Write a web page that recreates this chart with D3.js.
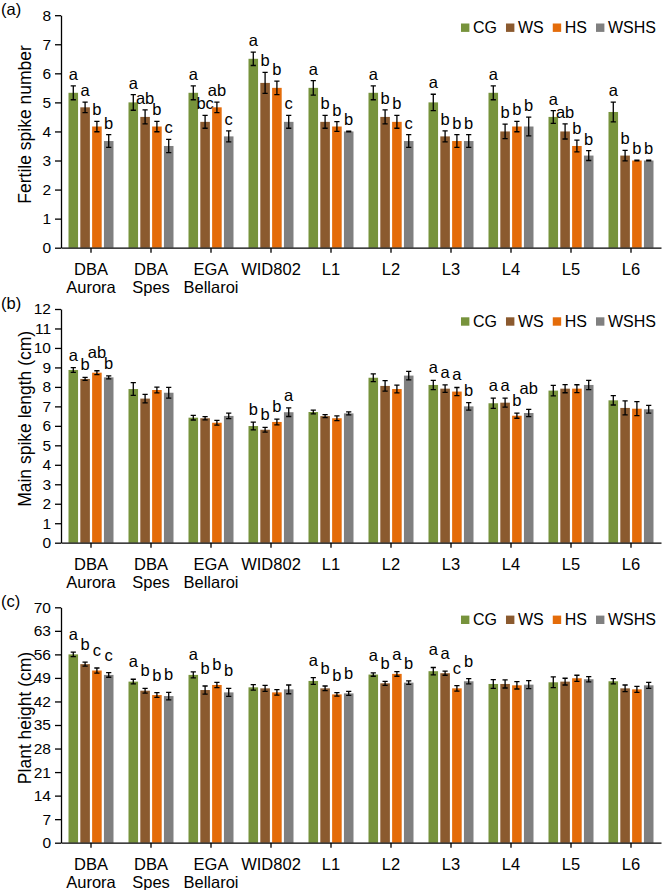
<!DOCTYPE html>
<html>
<head>
<meta charset="utf-8">
<script src="https://cdn.jsdelivr.net/npm/d3@7"></script>
<style>
  body { margin: 0; background: #fff; }
  svg { display: block; font-family: Arial, "Liberation Sans", sans-serif; }
</style>
</head>
<body>
<svg id="chart" width="663" height="890"></svg>
<script>
const categories = ["DBA Aurora", "DBA Spes", "EGA Bellaroi", "WID802", "L1", "L2", "L3", "L4", "L5", "L6"];
const treatments = ["CG", "WS", "HS", "WSHS"];
const colors = ["#77933c", "#8b5a2f", "#e46c0a", "#808080"];

// (a) fertile spike number, one row per category: CG, WS, HS, WSHS
const spikeMean = [
  [5.33, 4.83, 4.17, 3.67], [5.0, 4.5, 4.17, 3.5], [5.33, 4.33, 4.83, 3.83], [6.5, 5.67, 5.5, 4.33],
  [5.5, 4.33, 4.17, 4.0], [5.33, 4.5, 4.33, 3.67], [5.0, 3.83, 3.67, 3.67], [5.33, 4.0, 4.17, 4.17],
  [4.5, 4.0, 3.5, 3.17], [4.67, 3.17, 3.0, 3.0]
];
const spikeErr = [
  [0.24, 0.18, 0.18, 0.22], [0.27, 0.24, 0.18, 0.23], [0.24, 0.22, 0.18, 0.19], [0.23, 0.36, 0.23, 0.22],
  [0.25, 0.22, 0.17, 0.01], [0.24, 0.24, 0.22, 0.22], [0.28, 0.19, 0.22, 0.22], [0.24, 0.25, 0.18, 0.32],
  [0.22, 0.26, 0.2, 0.17], [0.34, 0.18, 0.01, 0.01]
];
const spikeLetters = [
  ["a", "a", "b", "b"], ["a", "ab", "b", "c"], ["a", "bc", "ab", "c"], ["a", "b", "b", "c"],
  ["a", "b", "b", "b"], ["a", "b", "b", "c"], ["a", "b", "b", "b"], ["a", "b", "b", "b"],
  ["a", "ab", "b", "b"], ["a", "b", "b", "b"]
];

// (b) main spike length (cm)
const lengthMean = [
  [8.87, 8.41, 8.73, 8.49], [7.89, 7.4, 7.84, 7.7], [6.42, 6.39, 6.16, 6.51], [5.99, 5.8, 6.2, 6.7],
  [6.71, 6.5, 6.39, 6.64], [8.47, 8.05, 7.89, 8.58], [8.1, 7.91, 7.76, 7.0], [7.16, 7.19, 6.52, 6.66],
  [7.81, 7.91, 7.91, 8.1], [7.31, 6.92, 6.88, 6.85]
];
const lengthErr = [
  [0.12, 0.08, 0.1, 0.08], [0.33, 0.22, 0.15, 0.28], [0.12, 0.08, 0.12, 0.14], [0.2, 0.12, 0.15, 0.22],
  [0.1, 0.08, 0.12, 0.08], [0.2, 0.27, 0.2, 0.22], [0.24, 0.19, 0.21, 0.19], [0.26, 0.23, 0.13, 0.19],
  [0.27, 0.21, 0.2, 0.24], [0.24, 0.36, 0.36, 0.2]
];
const lengthLetters = [
  ["a", "b", "ab", "b"], ["", "", "", ""], ["", "", "", ""], ["b", "b", "b", "a"],
  ["", "", "", ""], ["", "", "", ""], ["a", "a", "a", "b"], ["a", "a", "b", "ab"],
  ["", "", "", ""], ["", "", "", ""]
];

// (c) plant height (cm)
const heightMean = [
  [56.0, 53.1, 51.2, 49.9], [47.9, 45.2, 43.9, 43.6], [49.9, 45.4, 46.9, 44.7], [46.2, 45.9, 44.7, 45.6],
  [48.1, 45.9, 44.1, 44.4], [50.0, 47.4, 50.2, 47.6], [51.0, 50.4, 45.9, 48.0], [47.2, 47.2, 46.8, 47.0],
  [47.7, 47.9, 48.9, 48.6], [48.0, 45.9, 45.6, 46.8]
];
const heightErr = [
  [0.65, 0.6, 0.75, 0.7], [0.7, 0.7, 0.7, 1.1], [0.9, 1.2, 0.8, 1.2], [0.8, 0.9, 0.8, 1.3],
  [1.0, 0.7, 0.5, 0.6], [0.5, 0.6, 0.7, 0.5], [1.1, 0.6, 0.8, 0.8], [1.3, 1.2, 1.1, 1.2],
  [1.6, 1.0, 0.9, 0.8], [0.8, 1.0, 0.9, 0.9]
];
const heightLetters = [
  ["a", "b", "c", "c"], ["a", "b", "b", "b"], ["a", "b", "b", "b"], ["", "", "", ""],
  ["a", "b", "b", "b"], ["a", "b", "a", "b"], ["a", "a", "c", "b"], ["", "", "", ""],
  ["", "", "", ""], ["", "", "", ""]
];

const panels = [
  {tag: "(a)", title: "Fertile spike number", top: 15.2, bottom: 247.7, max: 8, step: 1,
   mean: spikeMean, err: spikeErr, letters: spikeLetters, gap: 6},
  {tag: "(b)", title: "Main spike length (cm)", top: 309, bottom: 542.7, max: 12, step: 1,
   mean: lengthMean, err: lengthErr, letters: lengthLetters, gap: 7},
  {tag: "(c)", title: "Plant height (cm)", top: 607.3, bottom: 842.7, max: 70, step: 7,
   mean: heightMean, err: heightErr, letters: heightLetters, gap: 12}
];

const svg = d3.select("#chart");
const left = 61, right = 661;

const x0 = d3.scaleBand().domain(categories).range([left, right]).padding(0);
const x1 = d3.scaleBand().domain(treatments).range([7.5, 52.5]).paddingInner(0.19);
const color = d3.scaleOrdinal().domain(treatments).range(colors);

panels.forEach(p => {
  const y = d3.scaleLinear().domain([0, p.max]).range([p.bottom, p.top]);
  const g = svg.append("g");

  // bars, error bars, letters
  const rows = categories.map((c, i) => treatments.map((t, j) => ({
    cat: c, t: t, v: p.mean[i][j], e: p.err[i][j], l: p.letters[i][j]
  }))).flat();

  const bar = g.append("g").selectAll("g")
    .data(rows)
    .join("g")
    .attr("transform", d => `translate(${x0(d.cat) + x1(d.t)},0)`);

  bar.append("rect")
    .attr("x", 0)
    .attr("width", x1.bandwidth())
    .attr("y", d => y(d.v))
    .attr("height", d => y(0) - y(d.v))
    .attr("fill", d => color(d.t));

  const cx = x1.bandwidth() / 2;
  bar.append("path")
    .attr("d", d => {
      const a = y(d.v + d.e), b = y(d.v - d.e);
      return `M${cx},${a}V${b}M${cx - 2.6},${a}H${cx + 2.6}M${cx - 2.6},${b}H${cx + 2.6}`;
    })
    .attr("stroke", "#000")
    .attr("stroke-width", 1.3)
    .attr("fill", "none");

  const letters = bar.filter(d => d.l).append("text")
    .attr("x", cx)
    .attr("y", d => y(d.v + d.e) - p.gap)
    .attr("text-anchor", "middle")
    .attr("font-size", 16.5)
    .text(d => d.l);

  // lift a letter above its left neighbour when the two would collide
  let prev = null;
  letters.each(function(d) {
    const w = this.getComputedTextLength();
    const mid = x0(d.cat) + x1(d.t) + cx;
    let base = +this.getAttribute("y");
    const box = {l: mid - w / 2, r: mid + w / 2, cat: d.cat};
    if (prev && prev.cat === d.cat && box.l < prev.r - 0.5 &&
        base > prev.base - 10 && base - 10 < prev.base) {
      base = prev.base - 12;
      d3.select(this).attr("y", base);
    }
    box.base = base;
    prev = box;
  });

  // y axis
  const yAxis = d3.axisLeft(y)
    .tickValues(d3.range(0, p.max + p.step / 2, p.step))
    .tickSize(6)
    .tickPadding(4)
    .tickSizeOuter(0);
  const ya = g.append("g").attr("transform", `translate(${left},0)`).call(yAxis);
  ya.select(".domain").attr("stroke-width", 1.3);
  ya.selectAll(".tick line").attr("stroke-width", 1.3);
  ya.selectAll("text").attr("font-size", 15.5).attr("fill", "#000").attr("font-family", null);

  // x axis
  const xAxis = d3.axisBottom(x0).tickSize(5).tickSizeOuter(0).tickFormat("");
  const xa = g.append("g").attr("transform", `translate(0,${p.bottom})`).call(xAxis);
  xa.select(".domain").attr("stroke-width", 1.3);
  xa.selectAll(".tick line").attr("stroke-width", 1.3);
  xa.selectAll(".tick").append("text")
    .attr("fill", "#000")
    .attr("font-size", 16.5)
    .attr("text-anchor", "middle")
    .selectAll("tspan")
    .data(d => d.split(" "))
    .join("tspan")
    .attr("x", 0)
    .attr("y", (d, i) => 27 + i * 18)
    .text(d => d);

  // axis title
  g.append("text")
    .attr("transform", `translate(31,${(p.top + p.bottom) / 2 - 7}) rotate(-90)`)
    .attr("text-anchor", "middle")
    .attr("font-size", 17.5)
    .text(p.title);

  // panel tag
  g.append("text")
    .attr("x", 1)
    .attr("y", p.top)
    .attr("font-size", 16.5)
    .text(p.tag);

  // legend, right aligned
  const lg = g.append("g");
  let lx = 0;
  treatments.forEach((t, j) => {
    lg.append("rect")
      .attr("x", lx).attr("y", -4.2)
      .attr("width", 8.4).attr("height", 8.4)
      .attr("fill", colors[j]);
    const tx = lg.append("text")
      .attr("x", lx + 12)
      .attr("y", 5.6)
      .attr("font-size", 16)
      .text(t);
    lx += 12 + tx.node().getComputedTextLength() + 9;
  });
  lx -= 9;
  lg.attr("transform", `translate(${656 - lx},${p.top + 12.5})`);
});
</script>
</body>
</html>
